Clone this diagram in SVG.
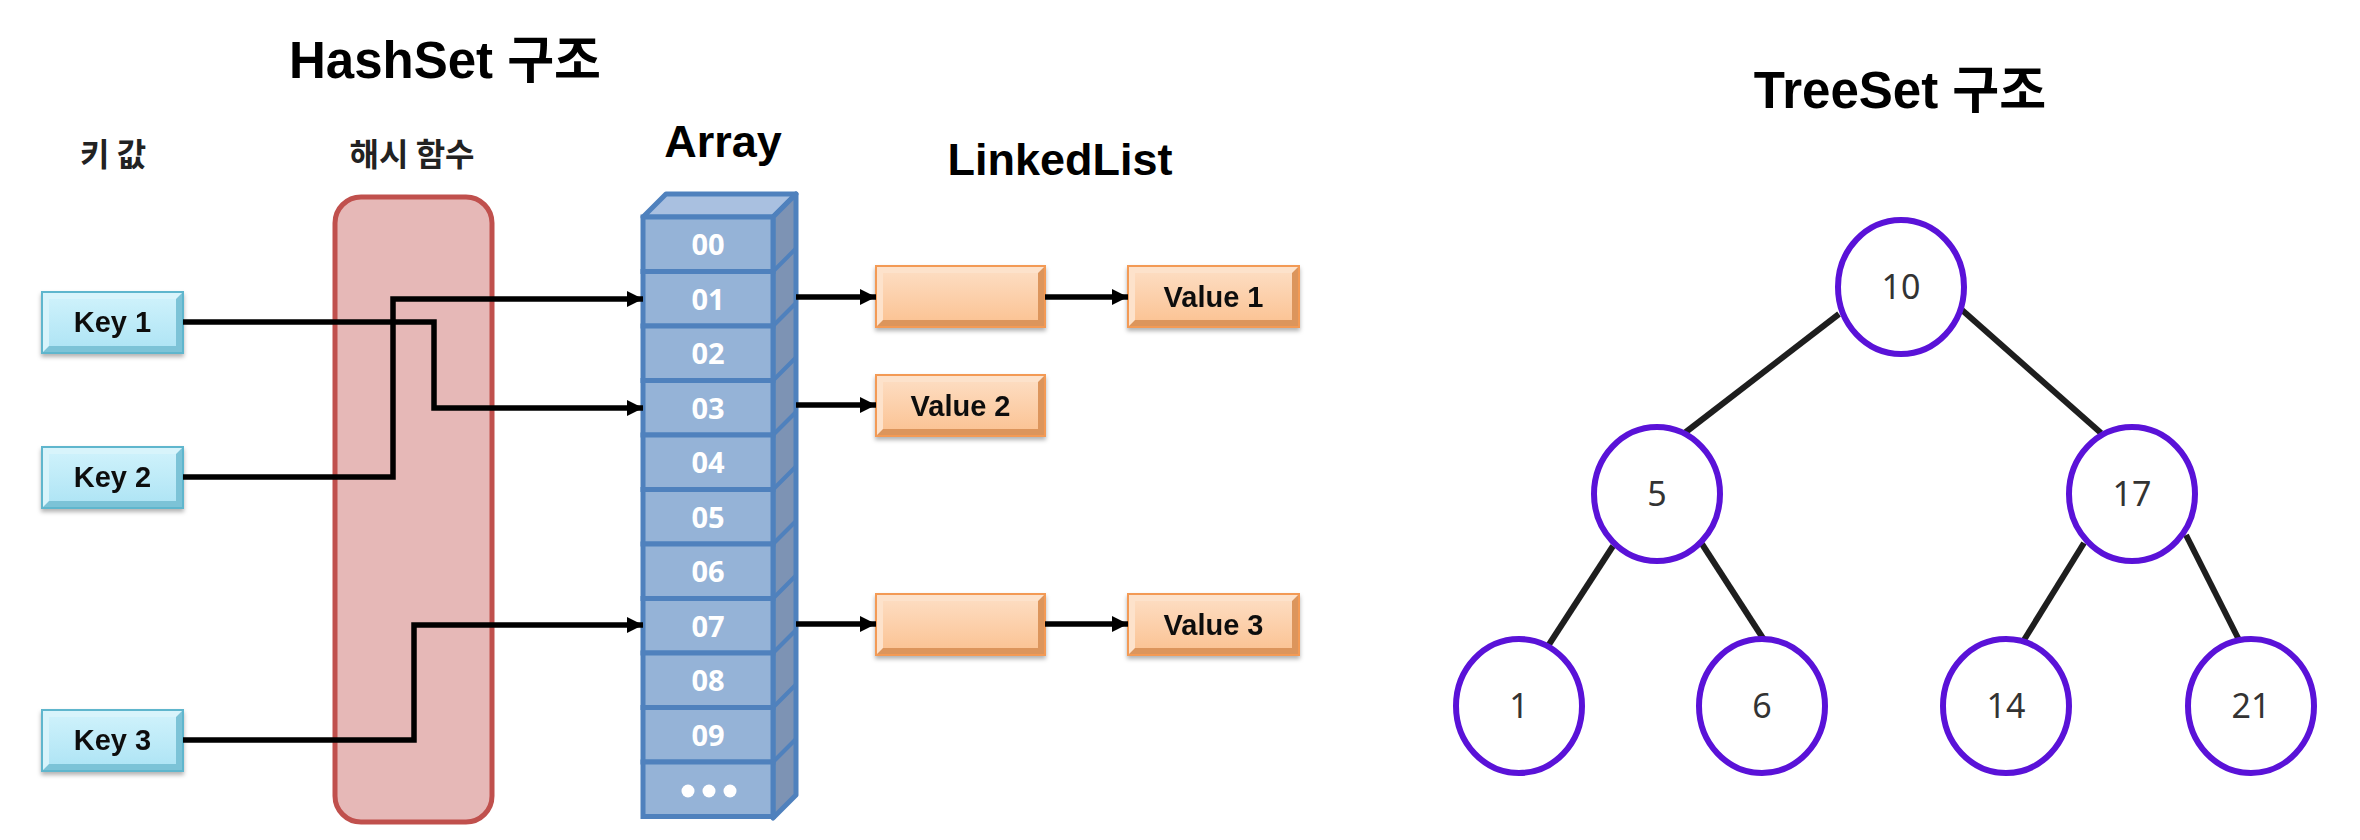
<svg xmlns="http://www.w3.org/2000/svg" width="2360" height="840" viewBox="0 0 2360 840">
<defs>
<style>
.title{font-family:"Liberation Sans","Noto Sans CJK KR",sans-serif;font-weight:bold;fill:#000;text-anchor:middle}
.sub{font-family:"Noto Sans CJK KR","Liberation Sans",sans-serif;font-weight:bold;font-size:32px;fill:#222;text-anchor:middle}
.lbl{font-family:"Liberation Sans",sans-serif;font-weight:bold;font-size:29px;fill:#111;text-anchor:middle}
.cell{fill:#95b3d7;stroke:#4f81bd;stroke-width:5}
.ctext{font-family:"Noto Sans","Liberation Sans",sans-serif;font-weight:bold;font-size:29px;fill:#fff;text-anchor:middle}
.kdark{fill:#7cc3d7}
.klight{fill:#d8f4fb}
.kedge{fill:none;stroke:#5fb6cd;stroke-width:2}
.odark{fill:#dc955c}
.olight{fill:#fde2cb}
.oedge{fill:none;stroke:#f39a55;stroke-width:2}
.conn{fill:none;stroke:#000;stroke-width:5.5;marker-end:url(#ah)}
.edge{stroke:#1e1e1e;stroke-width:6;stroke-linecap:butt}
.tnode{fill:#fff;stroke:#5a12d8;stroke-width:6}
.ttext{font-family:"Noto Sans","Open Sans",sans-serif;font-size:34px;fill:#333;text-anchor:middle}
</style>
<linearGradient id="kg" x1="0" y1="0" x2="0" y2="1"><stop offset="0" stop-color="#cdf1fb"/><stop offset="1" stop-color="#b0e5f5"/></linearGradient>
<linearGradient id="og" x1="0" y1="0" x2="0" y2="1"><stop offset="0" stop-color="#fddcc0"/><stop offset="1" stop-color="#fbc496"/></linearGradient>
<filter id="sh" x="-10%" y="-20%" width="120%" height="150%"><feDropShadow dx="0" dy="3" stdDeviation="2" flood-color="#000" flood-opacity="0.3"/></filter>
<marker id="ah" markerUnits="userSpaceOnUse" markerWidth="18" markerHeight="18" refX="16" refY="9" orient="auto"><path d="M0,1 L16,9 L0,17 Z" fill="#000"/></marker>
</defs>
<rect width="2360" height="840" fill="#fff"/>

<g id="titles">
<text class="title" x="445" y="78" font-size="51">HashSet 구조</text>
<text class="sub" x="113" y="166">키 값</text>
<text class="sub" x="412" y="166">해시 함수</text>
<text class="title" x="723" y="157" font-size="45">Array</text>
<text class="title" x="1060" y="175" font-size="45">LinkedList</text>
<text class="title" x="1900" y="108" font-size="51">TreeSet 구조</text>
</g>

<g id="hash-function">
<rect x="335" y="197" width="157" height="625" rx="26" fill="#e6b8b7" stroke="#c0504d" stroke-width="5"/>
</g>

<g id="key1" transform="translate(42,292)" filter="url(#sh)">
<rect width="141" height="61" class="kdark"/>
<polygon points="0,0 141,0 134,7 7,7 7,54 0,61" class="klight"/>
<rect x="7" y="7" width="127" height="47" fill="url(#kg)"/>
<rect width="141" height="61" class="kedge"/>
<text class="lbl" x="70.5" y="40">Key 1</text>
</g>
<g id="key2" transform="translate(42,447)" filter="url(#sh)">
<rect width="141" height="61" class="kdark"/>
<polygon points="0,0 141,0 134,7 7,7 7,54 0,61" class="klight"/>
<rect x="7" y="7" width="127" height="47" fill="url(#kg)"/>
<rect width="141" height="61" class="kedge"/>
<text class="lbl" x="70.5" y="40">Key 2</text>
</g>
<g id="key3" transform="translate(42,710)" filter="url(#sh)">
<rect width="141" height="61" class="kdark"/>
<polygon points="0,0 141,0 134,7 7,7 7,54 0,61" class="klight"/>
<rect x="7" y="7" width="127" height="47" fill="url(#kg)"/>
<rect width="141" height="61" class="kedge"/>
<text class="lbl" x="70.5" y="40">Key 3</text>
</g>

<g id="array">
<polygon points="643,217 666,194 796,194 773,217" fill="#a9c0e0" stroke="#4f81bd" stroke-width="5" stroke-linejoin="round"/>
<polygon points="773,217 796,194 796,795 773,818" fill="#7d93b4" stroke="#4f81bd" stroke-width="5" stroke-linejoin="round"/>
<g stroke="#4f81bd" stroke-width="4">
<line x1="773" y1="271.5" x2="796" y2="248.5"/>
<line x1="773" y1="326" x2="796" y2="303"/>
<line x1="773" y1="380.5" x2="796" y2="357.5"/>
<line x1="773" y1="435" x2="796" y2="412"/>
<line x1="773" y1="489.5" x2="796" y2="466.5"/>
<line x1="773" y1="544" x2="796" y2="521"/>
<line x1="773" y1="598.5" x2="796" y2="575.5"/>
<line x1="773" y1="653" x2="796" y2="630"/>
<line x1="773" y1="707.5" x2="796" y2="684.5"/>
<line x1="773" y1="762" x2="796" y2="739"/>
</g>
<rect class="cell" x="643" y="217" width="130" height="54.5"/>
<rect class="cell" x="643" y="271.5" width="130" height="54.5"/>
<rect class="cell" x="643" y="326" width="130" height="54.5"/>
<rect class="cell" x="643" y="380.5" width="130" height="54.5"/>
<rect class="cell" x="643" y="435" width="130" height="54.5"/>
<rect class="cell" x="643" y="489.5" width="130" height="54.5"/>
<rect class="cell" x="643" y="544" width="130" height="54.5"/>
<rect class="cell" x="643" y="598.5" width="130" height="54.5"/>
<rect class="cell" x="643" y="653" width="130" height="54.5"/>
<rect class="cell" x="643" y="707.5" width="130" height="54.5"/>
<rect class="cell" x="643" y="762" width="130" height="54.5"/>
<text class="ctext" x="708" y="255">00</text>
<text class="ctext" x="708" y="309.5">01</text>
<text class="ctext" x="708" y="364">02</text>
<text class="ctext" x="708" y="418.5">03</text>
<text class="ctext" x="708" y="473">04</text>
<text class="ctext" x="708" y="527.5">05</text>
<text class="ctext" x="708" y="582">06</text>
<text class="ctext" x="708" y="636.5">07</text>
<text class="ctext" x="708" y="691">08</text>
<text class="ctext" x="708" y="745.5">09</text>
<circle cx="688" cy="791" r="6.5" fill="#fff"/>
<circle cx="709" cy="791" r="6.5" fill="#fff"/>
<circle cx="730" cy="791" r="6.5" fill="#fff"/>
</g>

<g id="node01" transform="translate(876,266)" filter="url(#sh)">
<rect width="169" height="61" class="odark"/>
<polygon points="0,0 169,0 162,7 7,7 7,54 0,61" class="olight"/>
<rect x="7" y="7" width="155" height="47" fill="url(#og)"/>
<rect width="169" height="61" class="oedge"/>
</g>
<g id="value1" transform="translate(1128,266)" filter="url(#sh)">
<rect width="171" height="61" class="odark"/>
<polygon points="0,0 171,0 164,7 7,7 7,54 0,61" class="olight"/>
<rect x="7" y="7" width="157" height="47" fill="url(#og)"/>
<rect width="171" height="61" class="oedge"/>
<text class="lbl" x="85.5" y="41">Value 1</text>
</g>
<g id="value2" transform="translate(876,375)" filter="url(#sh)">
<rect width="169" height="61" class="odark"/>
<polygon points="0,0 169,0 162,7 7,7 7,54 0,61" class="olight"/>
<rect x="7" y="7" width="155" height="47" fill="url(#og)"/>
<rect width="169" height="61" class="oedge"/>
<text class="lbl" x="84.5" y="41">Value 2</text>
</g>
<g id="node07" transform="translate(876,594)" filter="url(#sh)">
<rect width="169" height="61" class="odark"/>
<polygon points="0,0 169,0 162,7 7,7 7,54 0,61" class="olight"/>
<rect x="7" y="7" width="155" height="47" fill="url(#og)"/>
<rect width="169" height="61" class="oedge"/>
</g>
<g id="value3" transform="translate(1128,594)" filter="url(#sh)">
<rect width="171" height="61" class="odark"/>
<polygon points="0,0 171,0 164,7 7,7 7,54 0,61" class="olight"/>
<rect x="7" y="7" width="157" height="47" fill="url(#og)"/>
<rect width="171" height="61" class="oedge"/>
<text class="lbl" x="85.5" y="41">Value 3</text>
</g>

<g id="connectors">
<path class="conn" d="M183,322 H434 V408 H643"/>
<path class="conn" d="M183,477 H393 V299 H643"/>
<path class="conn" d="M183,740 H414 V625 H643"/>
<path class="conn" d="M796,297 H876"/>
<path class="conn" d="M1045,297 H1128"/>
<path class="conn" d="M796,405 H876"/>
<path class="conn" d="M796,624 H876"/>
<path class="conn" d="M1045,624 H1128"/>
<line class="edge" x1="1839" y1="314" x2="1682" y2="435"/>
<line class="edge" x1="1962" y1="310" x2="2101" y2="433"/>
<line class="edge" x1="1613" y1="546" x2="1548" y2="646"/>
<line class="edge" x1="1702" y1="544" x2="1768" y2="646"/>
<line class="edge" x1="2084" y1="543" x2="2024" y2="640"/>
<line class="edge" x1="2186" y1="535" x2="2239" y2="640"/>
</g>

<g id="t10"><ellipse class="tnode" cx="1901" cy="287" rx="63" ry="67"/><text class="ttext" x="1901" y="299">10</text></g>
<g id="t5"><ellipse class="tnode" cx="1657" cy="494" rx="63" ry="67"/><text class="ttext" x="1657" y="506">5</text></g>
<g id="t17"><ellipse class="tnode" cx="2132" cy="494" rx="63" ry="67"/><text class="ttext" x="2132" y="506">17</text></g>
<g id="t1"><ellipse class="tnode" cx="1519" cy="706" rx="63" ry="67"/><text class="ttext" x="1519" y="718">1</text></g>
<g id="t6"><ellipse class="tnode" cx="1762" cy="706" rx="63" ry="67"/><text class="ttext" x="1762" y="718">6</text></g>
<g id="t14"><ellipse class="tnode" cx="2006" cy="706" rx="63" ry="67"/><text class="ttext" x="2006" y="718">14</text></g>
<g id="t21"><ellipse class="tnode" cx="2251" cy="706" rx="63" ry="67"/><text class="ttext" x="2251" y="718">21</text></g>
</svg>
